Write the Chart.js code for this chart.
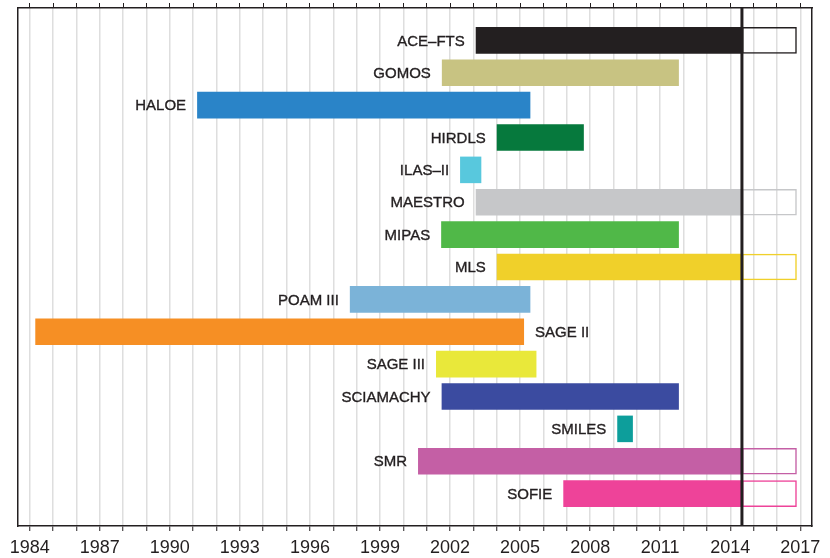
<!DOCTYPE html>
<html>
<head>
<meta charset="utf-8">
<script src="https://cdn.jsdelivr.net/npm/chart.js@4.4.1/dist/chart.umd.min.js"></script>
<style>
  html, body { margin: 0; padding: 0; background: #ffffff; }
  #wrap { width: 830px; height: 558px; }
</style>
</head>
<body>
<div id="wrap"><canvas id="c" width="830" height="558"></canvas></div>
<script>
// ---- data ----
const instruments = ['ACE–FTS', 'GOMOS', 'HALOE', 'HIRDLS', 'ILAS–II', 'MAESTRO', 'MIPAS', 'MLS',
                     'POAM III', 'SAGE II', 'SAGE III', 'SCIAMACHY', 'SMILES', 'SMR', 'SOFIE'];
const startYear = [2003.1, 2001.65, 1991.17, 2004.0, 2002.43, 2003.1, 2001.62, 2004.0,
                   1997.71, 1984.24, 2001.4, 2001.64, 2009.16, 2000.63, 2006.85];
const endYear   = [2016.85, 2011.8, 2005.44, 2007.73, 2003.34, 2016.85, 2011.8, 2016.85,
                   2005.44, 2005.17, 2005.7, 2011.8, 2009.83, 2016.85, 2016.85];
const barColors = ['#231f20', '#c8c382', '#2a84c8', '#06793d', '#58c8dd', '#c6c7c9', '#50b848', '#f0d02a',
                   '#7bb3d8', '#f68f24', '#e9e83a', '#3b4ba0', '#0d9e9b', '#c45fa5', '#ee4399'];
const labelOnRight = ['SAGE II'];
const cutoffYear = 2014.5;
const tickYears = [];
for (let y = 1984; y <= 2017; y++) tickYears.push(y);
const labelledYears = [1984, 1987, 1990, 1993, 1996, 1999, 2002, 2005, 2008, 2011, 2014, 2017];
const xMin = 1983.5, xMax = 2017.5;

// ---- build chart data (padded with an empty row above and below) ----
const rows = [''].concat(instruments).concat(['']);
const pad = arr => [null].concat(arr).concat([null]);
const filled = pad(instruments.map((_, i) => [startYear[i], Math.min(endYear[i], cutoffYear)]));
const extension = pad(instruments.map((_, i) => endYear[i] > cutoffYear ? [cutoffYear, endYear[i]] : null));
const colors = pad(barColors);

const FONT = "'Liberation Sans', Arial, Helvetica, sans-serif";
const INK = '#231f20';

const cutoffLine = {
  id: 'cutoffLine',
  afterDatasetsDraw(chart) {
    const { ctx, chartArea, scales } = chart;
    const x = scales.x.getPixelForValue(cutoffYear);
    ctx.save();
    ctx.strokeStyle = INK;
    ctx.lineWidth = 3;
    ctx.beginPath();
    ctx.moveTo(x, chartArea.top);
    ctx.lineTo(x, chartArea.bottom);
    ctx.stroke();
    ctx.restore();
  }
};

const barLabels = {
  id: 'barLabels',
  afterDatasetsDraw(chart) {
    const { ctx } = chart;
    const metaF = chart.getDatasetMeta(0);
    const metaE = chart.getDatasetMeta(1);
    ctx.save();
    ctx.font = '15px ' + FONT;
    ctx.fillStyle = INK;
    ctx.strokeStyle = INK;
    ctx.lineWidth = 0.35;
    ctx.textBaseline = 'middle';
    rows.forEach((name, i) => {
      if (!name) return;
      const el = metaF.data[i];
      if (!el) return;
      const left = Math.min(el.x, el.base);
      let right = Math.max(el.x, el.base);
      const ext = metaE.data[i];
      if (extension[i] && ext) right = Math.max(right, ext.x, ext.base);
      let tx;
      if (labelOnRight.includes(name)) {
        ctx.textAlign = 'left';
        tx = right + 11;
      } else {
        ctx.textAlign = 'right';
        tx = left - 11;
      }
      ctx.fillText(name, tx, el.y + 1);
      ctx.strokeText(name, tx, el.y + 1);
    });
    ctx.restore();
  }
};

const setYearTicks = axis => { axis.ticks = tickYears.map(v => ({ value: v })); };

new Chart(document.getElementById('c'), {
  type: 'bar',
  data: {
    labels: rows,
    datasets: [
      {
        label: 'operation',
        data: filled,
        backgroundColor: colors,
        borderWidth: 0,
        barPercentage: 0.82,
        categoryPercentage: 1.0,
        grouped: false
      },
      {
        label: 'extension',
        data: extension,
        backgroundColor: 'rgba(255,255,255,0)',
        borderColor: colors,
        borderWidth: 1.5,
        borderSkipped: false,
        barPercentage: 0.82,
        categoryPercentage: 1.0,
        grouped: false
      }
    ]
  },
  options: {
    responsive: false,
    animation: false,
    indexAxis: 'y',
    layout: { padding: 0 },
    plugins: { legend: { display: false }, tooltip: { enabled: false } },
    scales: {
      y: {
        type: 'category',
        position: 'left',
        offset: false,
        grid: { display: false },
        ticks: { display: false },
        border: { display: true, color: INK, width: 1.5 },
        afterFit: s => { s.width = 18; }
      },
      yRight: {
        type: 'linear',
        position: 'right',
        min: 0, max: 1,
        grid: { display: false },
        ticks: { display: false },
        border: { display: true, color: INK, width: 1.5 },
        afterFit: s => { s.width = 18; }
      },
      x: {
        type: 'linear',
        position: 'bottom',
        min: xMin, max: xMax,
        afterBuildTicks: setYearTicks,
        grid: { color: '#dedede', lineWidth: 1.5, drawTicks: true, tickLength: 5, tickColor: INK, tickWidth: 1 },
        border: { display: true, color: INK, width: 1.5 },
        ticks: {
          autoSkip: false, maxRotation: 0, minRotation: 0, padding: 6,
          color: INK, font: { family: FONT, size: 18 },
          callback: v => labelledYears.includes(v) ? String(v) : ''
        },
        afterFit: s => { s.height = 32; }
      },
      xTop: {
        type: 'linear',
        position: 'top',
        min: xMin, max: xMax,
        afterBuildTicks: setYearTicks,
        grid: { drawOnChartArea: false, drawTicks: true, tickLength: 5, tickColor: INK, tickWidth: 1 },
        border: { display: true, color: INK, width: 1.5 },
        ticks: { display: false },
        afterFit: s => { s.height = 8; }
      }
    }
  },
  plugins: [cutoffLine, barLabels]
});
</script>
</body>
</html>
